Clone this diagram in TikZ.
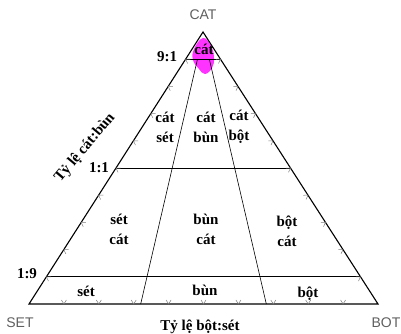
\documentclass[tikz,border=0pt]{standalone}
\usepackage{fontspec}
\setmainfont{Liberation Serif}
\setsansfont{Liberation Sans}
\usetikzlibrary{calc}
\definecolor{blobcolor}{RGB}{255,51,255}
\definecolor{cornergray}{RGB}{95,95,95}
\definecolor{tickgray}{RGB}{125,125,125}

\begin{document}
\begin{tikzpicture}[x=1pt,y=1pt,
  region/.style={font=\bfseries\fontsize{15}{20}\selectfont,align=center,inner sep=0pt},
  ratio/.style={font=\bfseries\fontsize{15}{17}\selectfont,inner sep=0pt},
  corner/.style={font=\sffamily\fontsize{14}{16}\selectfont,text=cornergray,inner sep=0pt},
  edge/.style={black,line width=1.1pt},
  divider/.style={black,line width=0.6pt},
  tickmark/.style={tickgray,line width=0.5pt}]
  \useasboundingbox (0,0) rectangle (401,334);
  % corners of the triangle
  \coordinate (C) at (203,302);
  \coordinate (S) at (29,30);
  \coordinate (B) at (378,30);
  % sand-ratio levels
  \coordinate (L9) at ($(C)!0.1!(S)$);
  \coordinate (R9) at ($(C)!0.1!(B)$);
  \coordinate (L5) at ($(C)!0.5!(S)$);
  \coordinate (R5) at ($(C)!0.5!(B)$);
  \coordinate (L1) at ($(C)!0.9!(S)$);
  \coordinate (R1) at ($(C)!0.9!(B)$);
  % silt:clay dividers
  \coordinate (T1) at ($(L9)!0.34!(R9)$);
  \coordinate (T2) at ($(L9)!0.68!(R9)$);
  \coordinate (D1) at ($(S)!0.32!(B)$);
  \coordinate (D2) at ($(S)!0.68!(B)$);

  \fill[blobcolor] plot[smooth cycle,tension=0.7] coordinates
    {(203,296) (194,285) (193,274) (199,265) (205,260) (212,266) (214,276) (211,288)};

  \draw[divider] (L9)--(R9);
  \draw[divider] (L5)--(R5);
  \draw[divider] (L1)--(R1);
  \draw[divider] (T1)--(D1);
  \draw[divider] (T2)--(D2);
  \draw[edge,line join=miter] (C)--(S)--(B)--cycle;

  % small chevrons on the edges
  \foreach \i in {1,...,9}{
    \draw[tickmark,shift={($(S)!\i/10!(B)$)}] (-2.5,4)--(0,0)--(2.5,4);
    \draw[tickmark,shift={($(C)!\i/10!(S)$)},rotate=237.4] (-2.5,4)--(0,0)--(2.5,4);
    \draw[tickmark,shift={($(B)!\i/10!(C)$)},rotate=122.8] (-2.5,4)--(0,0)--(2.5,4);
  }

  \node[corner] (cat) at (203,319) {CAT};
  \node[corner] (set) at (20,11) {SET};
  \node[corner] (bot) at (386,11) {BOT};

  \node[ratio] (r91) at (167,277) {9:1};
  \node[ratio] (r11) at (99,166) {1:1};
  \node[ratio] (r19) at (27,60) {1:9};

  \node[ratio,rotate=50] (axisleft) at (85,186) {Tỷ lệ cát:bùn};
  \node[ratio] (axisbottom) at (200,7) {Tỷ lệ bột:sét};

  \node[region] (sand) at (204,285) {cát};
  \node[region] (sandclay) at (165,207) {cát\\sét};
  \node[region] (sandmud) at (206,207) {cát\\bùn};
  \node[region] (sandsilt) at (239,207) {cát\\bột};
  \node[region] (claysand) at (119,105) {sét\\cát};
  \node[region] (mudsand) at (206,105) {bùn\\cát};
  \node[region] (siltsand) at (287,103) {bột\\cát};
  \node[region] (clay) at (86,43) {sét};
  \node[region] (mud) at (205,44) {bùn};
  \node[region] (silt) at (308,40) {bột};
\end{tikzpicture}
\end{document}
